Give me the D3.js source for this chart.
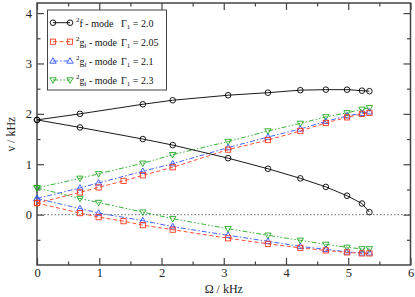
<!DOCTYPE html>
<html><head><meta charset="utf-8">
<script src="https://cdn.jsdelivr.net/npm/d3@7"></script>
<style>body{margin:0;background:#fff}svg{display:block}</style>
</head><body><svg id="c" width="415" height="297"></svg>
<script>
// Data (Ω in kHz, ν in kHz)
const xTicks = [0,1,2,3,4,5,6];
const yTicks = [0,1,2,3,4];
const gammaLabels = ["2.0","2.05","2.1","2.3"];
const modeLabels = ["f","g","g","g"];

const fOmega = [0,0.69,1.70,2.18,3.07,3.71,4.23,4.64,4.98,5.22,5.34];
const fUpper = [1.88,2.00,2.19,2.27,2.37,2.42,2.47,2.48,2.48,2.46,2.45];
const fLower = [1.88,1.73,1.50,1.38,1.12,0.91,0.72,0.55,0.375,0.22,0.05];

const g205Omega = [0,0.69,0.99,1.39,1.70,2.18,3.07,3.71,4.23,4.64,4.98,5.22,5.34];
const g205Upper = [0.23,0.44,0.54,0.67,0.78,0.94,1.29,1.48,1.66,1.82,1.93,2.00,2.02];
const g205Lower = [0.23,0.03,-0.05,-0.13,-0.21,-0.30,-0.47,-0.58,-0.66,-0.71,-0.75,-0.77,-0.77];

const g21Omega = [0,0.69,0.99,1.70,2.18,3.07,3.71,4.23,4.64,4.98,5.22,5.34];
const g21Upper = [0.32,0.53,0.63,0.86,1.01,1.33,1.54,1.70,1.85,1.96,2.01,2.04];
const g21Lower = [0.32,0.12,0.03,-0.12,-0.24,-0.41,-0.53,-0.63,-0.69,-0.74,-0.76,-0.76];

const g23Omega = [0,0.69,0.99,1.70,2.18,3.07,3.71,4.23,4.64,4.98,5.22,5.34];
const g23Upper = [0.53,0.72,0.81,1.02,1.19,1.45,1.66,1.81,1.94,2.02,2.09,2.12];
const g23Lower = [0.53,0.32,0.24,0.05,-0.08,-0.28,-0.41,-0.51,-0.59,-0.65,-0.68,-0.68];

const series = [
  {om:fOmega, branches:[fUpper,fLower], color:"#000000", dash:null, sym:"circle"},
  {om:g205Omega, branches:[g205Upper,g205Lower], color:"#ff3b1f", dash:"4,2.5", sym:"square"},
  {om:g21Omega, branches:[g21Upper,g21Lower], color:"#2f55ff", dash:"5,2,1.5,2", sym:"up"},
  {om:g23Omega, branches:[g23Upper,g23Lower], color:"#22aa22", dash:"5,2,1.5,2,1.5,2", sym:"down"}
];

const FONT = "'Times New Roman', Times, 'Liberation Serif', 'Nimbus Roman', 'DejaVu Serif', 'Noto Serif', serif";
const svg = d3.select("#c");
const L=37, R=410.5, T=3, B=265;
const x = d3.scaleLinear().domain([0,6]).range([L,R]);
const y = d3.scaleLinear().domain([-1,4.2]).range([B,T]);
const axCol = "#444";

// zero dotted line
svg.append("line").attr("x1",L).attr("x2",R).attr("y1",y(0)).attr("y2",y(0))
  .attr("stroke","#888").attr("stroke-width",1.3).attr("stroke-dasharray","1.5,2");

function mkAxis(gen, tr, vals, size, labels){
  const g = svg.append("g").attr("transform",tr)
    .call(gen.tickValues(vals).tickSize(size).tickPadding(0).tickFormat(labels? d3.format("d"):""));
  g.attr("font-family",FONT);
  g.select(".domain").remove();
  g.selectAll("line").attr("stroke",axCol).attr("stroke-width",1.2);
  g.selectAll("text").style("font-family",FONT).attr("font-size",12.5).attr("fill","#222");
  return g;
}
const xMinor = d3.range(0.5,6,1);
const yMinor = d3.range(-0.5,4.2,1);
const gb = mkAxis(d3.axisBottom(x), `translate(0,${B})`, xTicks, -7, true);
gb.selectAll("text").attr("y",8).attr("dy","0.35em");
mkAxis(d3.axisBottom(x), `translate(0,${B})`, xMinor, -3.5, false);
mkAxis(d3.axisTop(x), `translate(0,${T})`, xTicks, -7, false);
mkAxis(d3.axisTop(x), `translate(0,${T})`, xMinor, -3.5, false);
const gl = mkAxis(d3.axisLeft(y), `translate(${L},0)`, yTicks, -7, true);
gl.selectAll("text").attr("x",-5).attr("text-anchor","end");
mkAxis(d3.axisLeft(y), `translate(${L},0)`, yMinor, -3.5, false);
mkAxis(d3.axisRight(y), `translate(${R},0)`, yTicks, -7, false);
mkAxis(d3.axisRight(y), `translate(${R},0)`, yMinor, -3.5, false);
svg.append("rect").attr("x",L).attr("y",T).attr("width",R-L).attr("height",B-T)
  .attr("fill","none").attr("stroke",axCol).attr("stroke-width",1.5);

function drawSym(g, sym, cx, cy){
  if(sym==="circle") g.append("circle").attr("cx",cx).attr("cy",cy).attr("r",2.8);
  else if(sym==="square") g.append("rect").attr("x",cx-2.6).attr("y",cy-2.6).attr("width",5.2).attr("height",5.2);
  else if(sym==="up") g.append("path").attr("d",`M${cx},${cy-3.3}L${cx+3.2},${cy+2.2}L${cx-3.2},${cy+2.2}Z`);
  else g.append("path").attr("d",`M${cx},${cy+3.3}L${cx+3.2},${cy-2.2}L${cx-3.2},${cy-2.2}Z`);
}
const line = d3.line().x(d=>x(d[0])).y(d=>y(d[1]));
series.slice().reverse().forEach(s=>{
  const g = svg.append("g");
  s.branches.forEach(br=>{
    const pts = s.om.map((o,i)=>[o,br[i]]);
    g.append("path").attr("d",line(pts)).attr("fill","none").attr("stroke",s.color)
      .attr("stroke-width",0.9).attr("stroke-dasharray",s.dash);
    const mg = g.append("g").attr("fill","none").attr("stroke",s.color).attr("stroke-width",0.9);
    pts.forEach(p=>drawSym(mg,s.sym,x(p[0]),y(p[1])));
  });
});

// legend
const lg = svg.append("g");
lg.append("rect").attr("x",47.5).attr("y",10).attr("width",119).attr("height",80)
  .attr("fill","#fff").attr("stroke","#444").attr("stroke-width",1);
const rowY = [22.7,41.7,61,80];
series.forEach((s,i)=>{
  const yy = rowY[i];
  lg.append("line").attr("x1",53).attr("x2",70).attr("y1",yy).attr("y2",yy)
    .attr("stroke",s.color).attr("stroke-width",0.9).attr("stroke-dasharray",s.dash);
  const mg = lg.append("g").attr("fill","none").attr("stroke",s.color).attr("stroke-width",0.9);
  drawSym(mg,s.sym,53,yy); drawSym(mg,s.sym,70,yy);
  const t = lg.append("text").attr("x",76).attr("y",yy+3.8).style("font-family",FONT).attr("font-size",10).attr("fill","#111");
  t.append("tspan").attr("font-size",7).attr("dy",-4.5).text("2");
  t.append("tspan").attr("dy",4.5).text(modeLabels[i]);
  if(i>0){ t.append("tspan").attr("font-size",7).attr("dy",2.5).text("l"); t.append("tspan").attr("dy",-2.5).text(" - mode"); }
  else t.append("tspan").text(" - mode");
  const t2 = lg.append("text").attr("x",121).attr("y",yy+3.8).style("font-family",FONT).attr("font-size",10).attr("fill","#111");
  t2.append("tspan").text("Γ");
  t2.append("tspan").attr("font-size",7).attr("dy",2.5).text("1");
  t2.append("tspan").attr("dy",-2.5).text(" = "+gammaLabels[i]);
});

svg.append("text").attr("x",(L+R)/2).attr("y",293).attr("text-anchor","middle").style("font-family",FONT)
  .attr("font-size",12).attr("fill","#222").text("Ω / kHz");
svg.append("text").attr("transform",`translate(15,${(T+B)/2}) rotate(-90)`).attr("text-anchor","middle").style("font-family",FONT)
  .attr("font-size",12).attr("fill","#222").text("ν / kHz");
</script></body></html>
